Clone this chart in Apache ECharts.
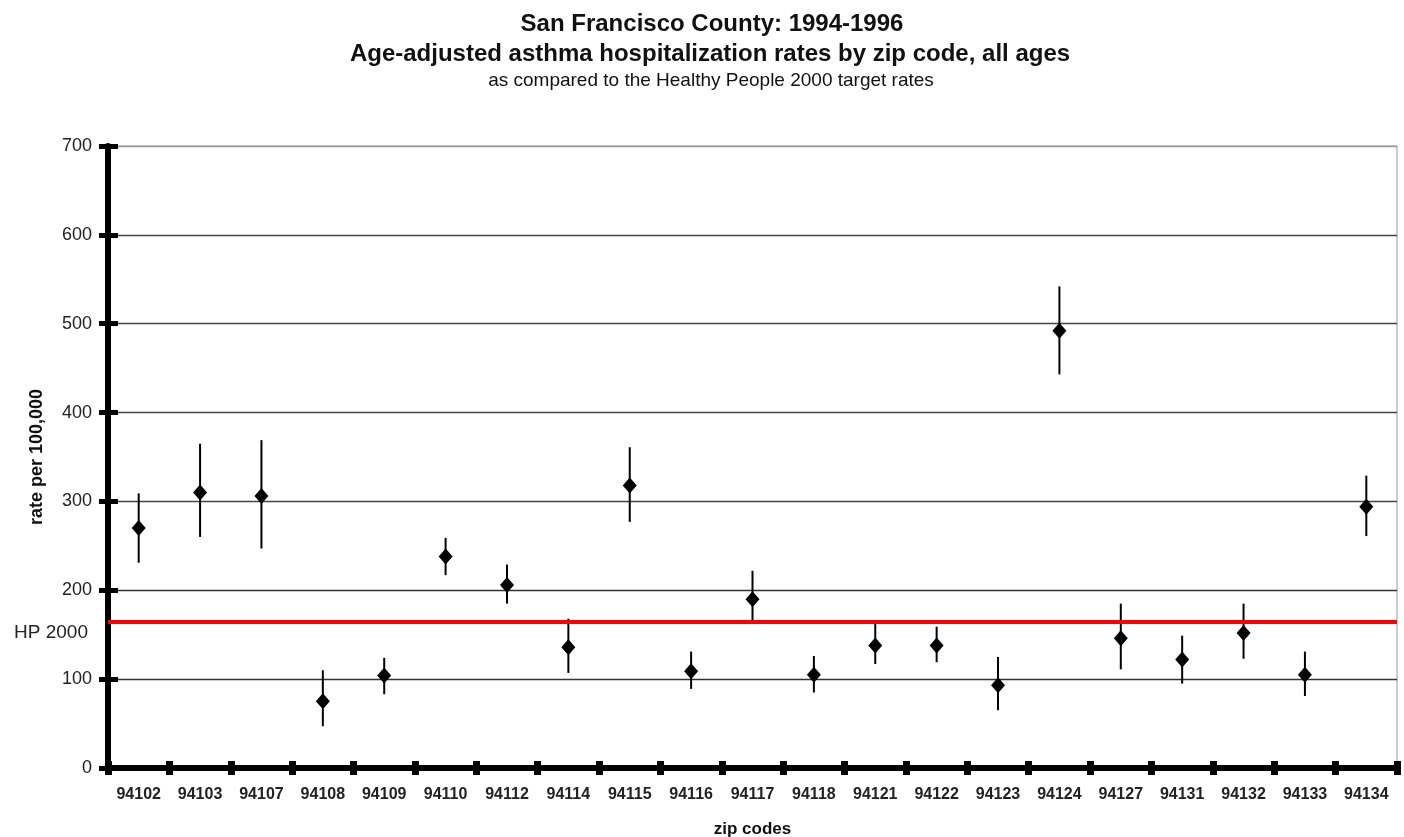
<!DOCTYPE html>
<html>
<head>
<meta charset="utf-8">
<script src="https://cdn.jsdelivr.net/npm/echarts@6/dist/echarts.min.js"></script>
<style>
html,body{margin:0;padding:0;background:#fff;}
#chart{width:1404px;height:837px;}
</style>
</head>
<body>
<div id="chart"></div>
<script>
var zips = ['94102','94103','94107','94108','94109','94110','94112','94114','94115','94116','94117','94118','94121','94122','94123','94124','94127','94131','94132','94133','94134'];
var rates = [270,310,306,75,104,238,206,136,318,109,190,105,138,138,93,492,146,122,152,105,294];
var lowerCI = [231,260,247,47,83,217,185,107,277,89,162,85,117,119,65,443,111,95,123,81,261];
var upperCI = [309,365,369,110,124,259,229,168,361,131,222,126,164,159,125,542,185,149,185,131,329];
var hpTarget = 165;
var hpLabel = 'HP 2000';
var yTicks = [0,100,200,300,400,500,600,700];

var FONT = '"Liberation Sans", Arial, sans-serif';
var chart = echarts.init(document.getElementById('chart'));

var errData = zips.map(function(z, i){ return [i, lowerCI[i], upperCI[i]]; });
var ptData = zips.map(function(z, i){ return [i, rates[i]]; });

var yBase = {
  type: 'value', min: yTicks[0], max: yTicks[yTicks.length-1], interval: 100
};

chart.setOption({
  animation: false,
  backgroundColor: '#ffffff',
  textStyle: { fontFamily: FONT },
  title: [
    { text: 'San Francisco County: 1994-1996', left: 707, top: 7, textAlign: 'center',
      textStyle: { fontFamily: FONT, fontSize: 24, fontWeight: 'bold', color: '#111' } },
    { text: 'Age-adjusted asthma hospitalization rates by zip code, all ages', left: 705, top: 37, textAlign: 'center',
      textStyle: { fontFamily: FONT, fontSize: 24, fontWeight: 'bold', color: '#111' } },
    { text: 'as compared to the Healthy People 2000 target rates', left: 706, top: 66, textAlign: 'center',
      textStyle: { fontFamily: FONT, fontSize: 19, fontWeight: 'normal', color: '#111' } }
  ],
  grid: { left: 108, right: 7, top: 146, bottom: 69, containLabel: false, outerBoundsMode: 'none',
          show: true, borderColor: '#999', borderWidth: 1, backgroundColor: 'transparent' },
  xAxis: [
    { type: 'category', data: zips, boundaryGap: true, position: 'bottom',
      name: 'zip codes', nameLocation: 'middle', nameGap: 53,
      nameTextStyle: { fontFamily: FONT, fontSize: 17, fontWeight: 'bold', color: '#111' },
      axisLine: { show: true, lineStyle: { color: '#000', width: 6 } },
      axisTick: { show: true, interval: 0, length: 7, lineStyle: { color: '#000', width: 7 } },
      axisLabel: { interval: 0, margin: 19, fontFamily: FONT, fontSize: 16, fontWeight: 'bold', color: '#222' },
      splitLine: { show: false } },
    { type: 'category', data: zips, boundaryGap: true, position: 'bottom', offset: 0,
      axisLine: { show: false },
      axisTick: { show: true, inside: true, interval: 0, length: 7, lineStyle: { color: '#000', width: 7 } },
      axisLabel: { show: false }, splitLine: { show: false } }
  ],
  yAxis: [
    Object.assign({}, yBase, {
      name: 'rate per 100,000', nameLocation: 'middle', nameGap: 62, nameRotate: 90,
      nameTextStyle: { fontFamily: FONT, fontSize: 18, fontWeight: 'bold', color: '#111' },
      axisLine: { show: true, lineStyle: { color: '#000', width: 6 } },
      axisTick: { show: true, length: 9, lineStyle: { color: '#000', width: 5 } },
      axisLabel: { margin: 16, fontFamily: FONT, fontSize: 18, color: '#222' },
      splitLine: { show: true, lineStyle: { color: ['#333','#333','#333','#444','#444','#444','#444','#999'], width: 1.3 } }
    }),
    Object.assign({}, yBase, {
      position: 'left', offset: 0,
      axisLine: { show: false },
      axisTick: { show: true, inside: true, length: 10, lineStyle: { color: '#000', width: 5 } },
      axisLabel: { show: false }, splitLine: { show: false }
    })
  ],
  series: [
    {
      type: 'custom', name: 'CI', xAxisIndex: 0, yAxisIndex: 0,
      renderItem: function(params, api){
        var x = api.value(0);
        var lo = api.coord([x, api.value(1)]);
        var hi = api.coord([x, api.value(2)]);
        return { type: 'line', shape: { x1: lo[0], y1: lo[1], x2: hi[0], y2: hi[1] },
                 style: { stroke: '#000', lineWidth: 2 } };
      },
      encode: { x: 0, y: [1, 2] },
      data: errData, z: 3
    },
    {
      type: 'scatter', name: 'rate', xAxisIndex: 0, yAxisIndex: 0,
      symbol: 'diamond', symbolSize: [14, 16],
      itemStyle: { color: '#000', opacity: 1 },
      data: ptData, z: 4,
      markLine: {
        silent: true, symbol: 'none',
        lineStyle: { color: '#ff0000', width: 4, type: 'solid' },
        label: { show: true, position: 'start', formatter: hpLabel, distance: 20, offset: [0, 11],
                 fontFamily: FONT, fontSize: 19, color: '#222' },
        data: [{ yAxis: hpTarget }]
      }
    }
  ]
});
</script>
</body>
</html>
